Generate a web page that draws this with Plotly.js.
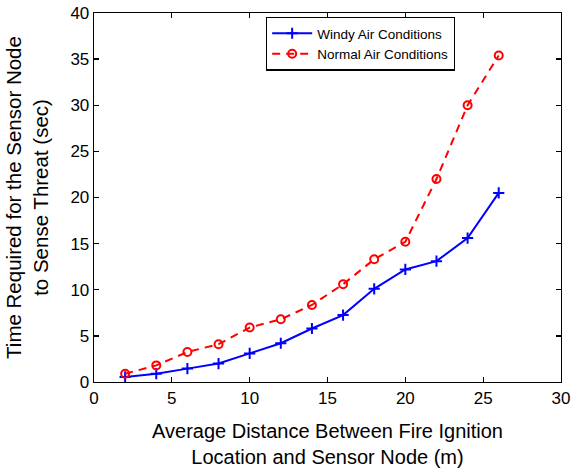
<!DOCTYPE html>
<html><head><meta charset="utf-8">
<script src="https://cdn.plot.ly/plotly-3.0.1.min.js"></script>
<style>body{margin:0;background:#fff}#chart{width:571px;height:471px}</style>
</head><body><div id="chart"></div>
<script>
const distance = [2, 4, 6, 8, 10, 12, 14, 16, 18, 20, 22, 24, 26];
const windyTime = [0.55, 0.9, 1.45, 2.0, 3.1, 4.2, 5.8, 7.25, 10.1, 12.2, 13.1, 15.6, 20.5];
const normalTime = [0.9, 1.8, 3.25, 4.1, 5.9, 6.8, 8.35, 10.6, 13.3, 15.2, 22.0, 30.0, 35.4];
const xTicks = [0, 5, 10, 15, 20, 25, 30];
const yTicks = [0, 5, 10, 15, 20, 25, 30, 35, 40];

const traces = [
  {x: distance, y: windyTime, name: 'Windy Air Conditions', mode: 'lines+markers',
   line: {color: '#0000ff', width: 2, dash: 'solid'},
   marker: {symbol: 'cross-thin-open', size: 8, color: '#0000ff', line: {color: '#0000ff', width: 2}}},
  {x: distance, y: normalTime, name: 'Normal Air Conditions', mode: 'lines+markers',
   line: {color: '#ff0000', width: 2, dash: '8px,6px'},
   marker: {symbol: 'circle-open', size: 8, color: '#ff0000', line: {color: '#ff0000', width: 2}}}
];
const axisCommon = {showgrid: false, zeroline: false, showline: true, mirror: 'ticks',
  linecolor: '#000', linewidth: 1.3, ticks: 'inside', ticklen: 5, tickcolor: '#000', tickwidth: 1.3,
  tickfont: {family: 'Liberation Sans, Arial, sans-serif', size: 17, color: '#000'}};
const layout = {
  width: 571, height: 471,
  margin: {l: 94, r: 10, t: 13, b: 89},
  paper_bgcolor: '#fff', plot_bgcolor: '#fff',
  font: {family: 'Liberation Sans, Arial, sans-serif', color: '#000'},
  xaxis: Object.assign({}, axisCommon, {range: [0, 30], tickvals: xTicks, automargin: false,
    title: {text: 'Average Distance Between Fire Ignition<br>Location and Sensor Node (m)',
      font: {size: 20, color: '#000'}, standoff: 17}}),
  yaxis: Object.assign({}, axisCommon, {range: [0, 40], tickvals: yTicks, automargin: false,
    title: {text: 'Time Required for the Sensor Node<br>to Sense Threat (sec)',
      font: {size: 20.5, color: '#000'}, standoff: 16}}),
  legend: {x: 0.368, y: 0.99, xanchor: 'left', yanchor: 'top',
    bordercolor: '#000', borderwidth: 1.3, bgcolor: '#fff',
    font: {size: 13.5, color: '#000'}, tracegroupgap: 0, itemwidth: 40},
  showlegend: true
};
Plotly.newPlot('chart', traces, layout, {displayModeBar: false, staticPlot: true});
</script></body></html>
